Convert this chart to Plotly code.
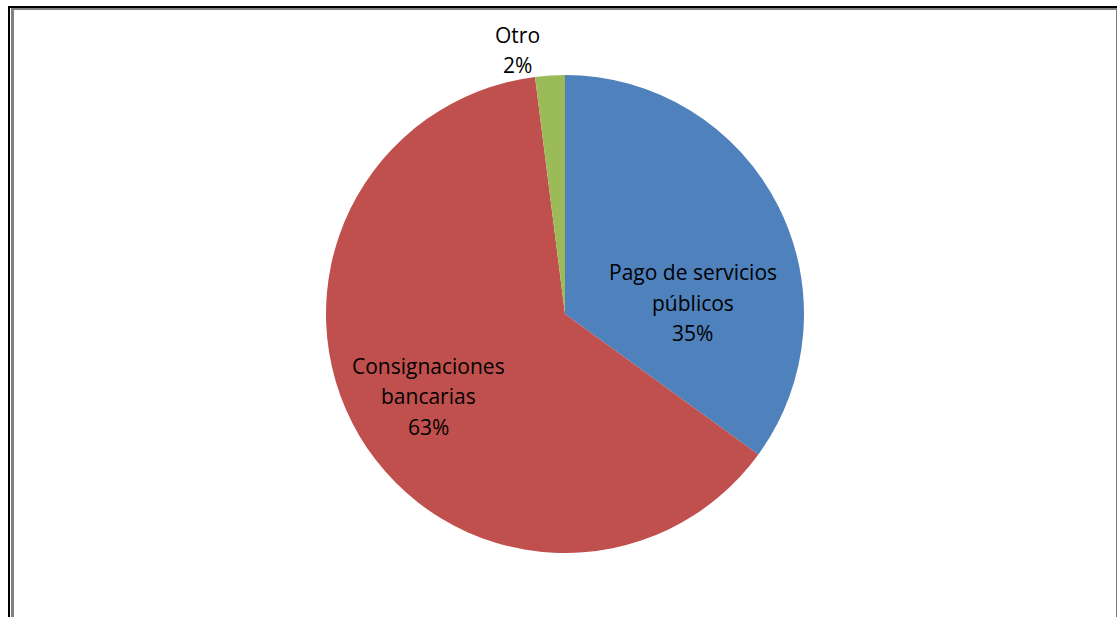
import plotly.graph_objects as go

# Share of transaction types
labels = ["Pago de servicios públicos", "Consignaciones bancarias", "Otro"]
values = [35, 63, 2]
colors = ["#4F81BD", "#C0504D", "#9BBB59"]

# Label lines drawn for each slice (split as displayed)
label_lines = [["Pago de servicios", "públicos"], ["Consignaciones", "bancarias"], ["Otro"]]

W, H = 1117, 617
cx, cy, r = 565, 314, 239

fig = go.Figure(go.Pie(
    labels=labels,
    values=values,
    marker=dict(colors=colors, line=dict(width=0)),
    sort=False,
    direction="clockwise",
    rotation=0,
    textinfo="none",
    hoverinfo="label+percent",
    showlegend=False,
    domain=dict(x=[(cx - r) / W, (cx + r) / W], y=[1 - (cy + r) / H, 1 - (cy - r) / H]),
))

total = sum(values)
# Text block centre (px) and line spacing for each slice
label_pos = [(693, 272), (428, 366), (517, 35)]
line_gap = 30.5
font = dict(family="Open Sans", size=21, color="#000000")
for lines, v, (x, y0) in zip(label_lines, values, label_pos):
    texts = lines + [f"{round(100 * v / total)}%"]
    for i, t in enumerate(texts):
        fig.add_annotation(
            x=x / W, y=1 - (y0 + i * line_gap) / H, xref="paper", yref="paper",
            text=t, showarrow=False, font=font, xanchor="center", yanchor="middle",
        )

def rect(x0, y0, x1, y1, color):
    fig.add_shape(type="rect", xref="paper", yref="paper",
                  x0=x0 / W, x1=x1 / W, y0=1 - y1 / H, y1=1 - y0 / H,
                  fillcolor=color, line=dict(width=0), layer="above")

# Frame around the chart area
rect(8, 6, W, 8, "#000000")
rect(8, 6, 10, H, "#000000")
rect(11, 8, 1116, 10, "#808080")
rect(11, 8, 14, H, "#808080")
rect(1116, 8, 1117, H, "#808080")

fig.update_layout(
    width=W, height=H,
    margin=dict(l=0, r=0, t=0, b=0),
    paper_bgcolor="#FFFFFF",
    plot_bgcolor="#FFFFFF",
)

fig.write_html("out.html")
